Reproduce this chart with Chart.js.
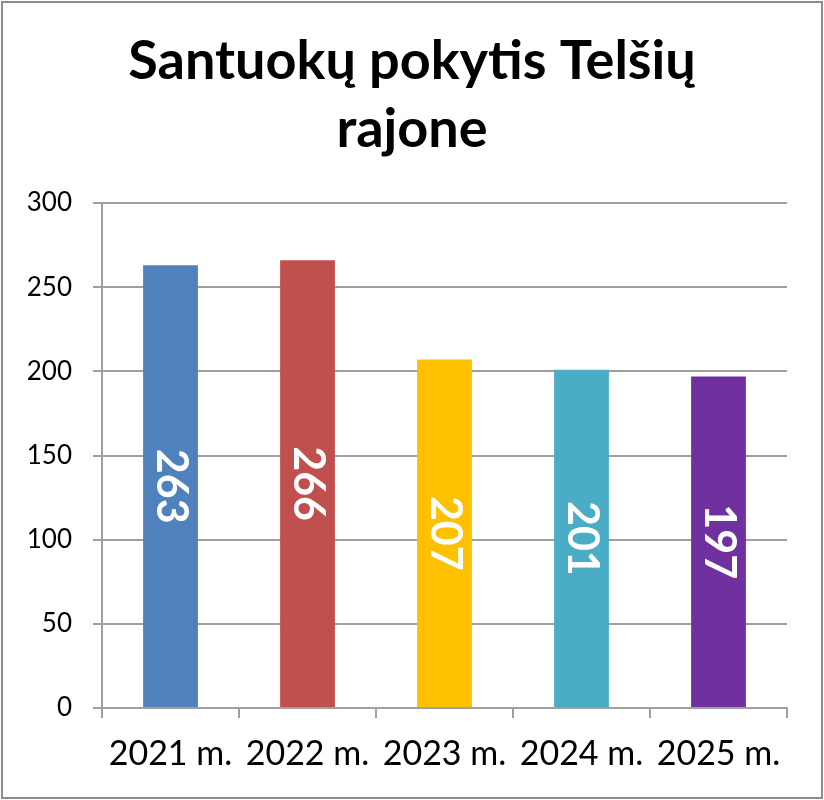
<!DOCTYPE html>
<html>
<head>
<meta charset="utf-8">
<script src="https://cdn.jsdelivr.net/npm/chart.js@4"></script>
<style>
  html, body { margin: 0; padding: 0; background: #fff; }
  #wrap { position: relative; width: 824px; height: 800px; }
</style>
</head>
<body>
<div id="wrap"><canvas id="chart" width="824" height="800"></canvas></div>
<script>
// data
const years = ['2021 m.', '2022 m.', '2023 m.', '2024 m.', '2025 m.'];
const marriages = [263, 266, 207, 201, 197];
const yTicks = [0, 50, 100, 150, 200, 250, 300];
const barColors = ['#4F81BD', '#C0504D', '#FFC000', '#4BACC6', '#7030A0'];

const gridGray = '#a0a0a0';

// white rotated value in the middle of every bar
const barLabels = {
    id: 'barLabels',
    afterDatasetsDraw(chart) {
        const ctx = chart.ctx;
        const meta = chart.getDatasetMeta(0);
        ctx.save();
        ctx.fillStyle = '#ffffff';
        ctx.font = 'bold 43px Lato';
        ctx.textAlign = 'center';
        ctx.textBaseline = 'middle';
        meta.data.forEach((bar, i) => {
            const midY = (bar.y + bar.base) / 2;
            ctx.save();
            ctx.translate(bar.x, midY);
            ctx.rotate(Math.PI / 2);
            ctx.fillText(String(marriages[i]), 0, 0);
            ctx.restore();
        });
        ctx.restore();
    }
};

// grey frame round the whole chart
const frame = {
    id: 'frame',
    afterDraw(chart) {
        const ctx = chart.ctx;
        ctx.save();
        ctx.strokeStyle = '#8c8c8c';
        ctx.lineWidth = 2;
        ctx.strokeRect(2, 2, 820, 796);
        ctx.restore();
    }
};

const config = {
    type: 'bar',
    data: {
        labels: years,
        datasets: [{
            data: marriages,
            backgroundColor: barColors,
            borderWidth: 0,
            categoryPercentage: 1,
            barPercentage: 0.4
        }]
    },
    options: {
        responsive: false,
        animation: false,
        layout: { padding: 0 },
        plugins: {
            legend: { display: false },
            tooltip: { enabled: false },
            title: {
                display: true,
                text: ['Santuokų pokytis Telšių', 'rajone'],
                color: '#000',
                font: { family: 'Lato', size: 54, weight: 'bold', lineHeight: 1.26 },
                padding: { top: 28, bottom: 39 }
            }
        },
        scales: {
            x: {
                offset: true,
                grid: {
                    offset: true,
                    drawOnChartArea: false,
                    drawTicks: true,
                    tickLength: 10,
                    color: gridGray,
                    lineWidth: 2
                },
                border: { display: true, color: gridGray, width: 2 },
                ticks: {
                    color: '#000',
                    font: { family: 'Lato', size: 34 },
                    padding: 16,
                    maxRotation: 0,
                    autoSkip: false
                },
                afterFit(scale) { scale.height = 92; }
            },
            y: {
                min: 0,
                max: 300,
                afterBuildTicks(scale) { scale.ticks = yTicks.map(v => ({ value: v })); },
                grid: {
                    color: gridGray,
                    lineWidth: 2,
                    tickLength: 9
                },
                border: { display: true, color: gridGray, width: 2 },
                ticks: {
                    color: '#000',
                    font: { family: 'Lato', size: 26 },
                    padding: 21
                },
                afterFit(scale) { scale.width = 102; }
            },
            // empty strip on the right so the title stays centred on the whole frame
            spacer: {
                type: 'linear',
                position: 'right',
                display: true,
                grid: { display: false },
                border: { display: false },
                ticks: { display: false },
                afterFit(scale) { scale.width = 37; }
            }
        }
    },
    plugins: [barLabels, frame]
};

const ctx = document.getElementById('chart').getContext('2d');
const plot = new Chart(ctx, config);
</script>
</body>
</html>
